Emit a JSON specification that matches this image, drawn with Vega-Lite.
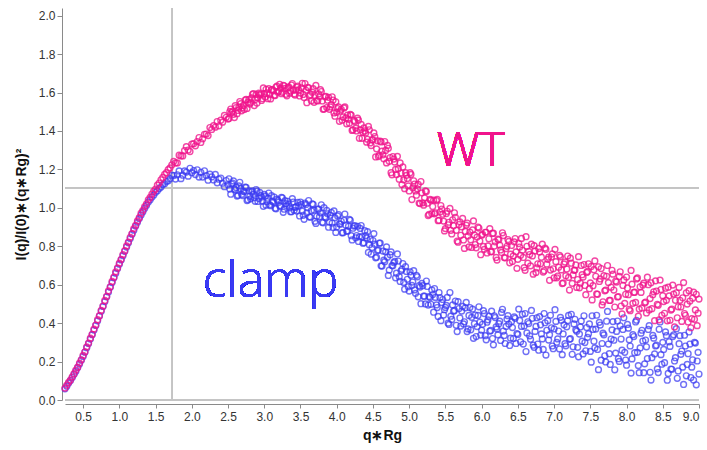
{
"$schema": "https://vega.github.io/schema/vega-lite/v6.json",
"width": 634, "height": 392,
"autosize": {"type": "none"},
"padding": {"left": 65, "top": 8, "right": 8, "bottom": 50},
"background": "white",
"config": {
 "view": {"stroke": null},
 "font": "Liberation Sans",
 "axis": {"grid": false, "domainColor": "#8a8a8a", "tickColor": "#8a8a8a", "labelColor": "#333333", "labelFontSize": 12, "titleFontSize": 14, "titleFontWeight": "bold", "titleColor": "#111111"},
 "axisY": {"offset": 3, "tickSize": 5, "labelPadding": 2, "titlePadding": 10, "values": [0,0.2,0.4,0.6,0.8,1.0,1.2,1.4,1.6,1.8,2.0], "format": ".1f"},
 "axisX": {"offset": 4, "tickSize": 4, "labelPadding": 3, "titlePadding": 6, "values": [0.5,1,1.5,2,2.5,3,3.5,4,4.5,5,5.5,6,6.5,7,7.5,8,8.5,9], "format": ".1f"}
},
"data": {"values": [
{"q":0.25,"w":0.062,"c":0.058},{"q":0.275,"w":0.078,"c":0.072},{"q":0.3,"w":0.092,"c":0.088},{"q":0.325,"w":0.104,"c":0.101},{"q":0.35,"w":0.121,"c":0.117},{"q":0.375,"w":0.137,"c":0.134},{"q":0.4,"w":0.156,"c":0.15},{"q":0.425,"w":0.171,"c":0.169},{"q":0.45,"w":0.192,"c":0.187},{"q":0.475,"w":0.209,"c":0.207},
{"q":0.5,"w":0.232,"c":0.227},{"q":0.525,"w":0.251,"c":0.249},{"q":0.55,"w":0.277,"c":0.272},{"q":0.575,"w":0.296,"c":0.294},{"q":0.6,"w":0.322,"c":0.317},{"q":0.625,"w":0.342,"c":0.34},{"q":0.65,"w":0.369,"c":0.364},{"q":0.675,"w":0.39,"c":0.388},{"q":0.7,"w":0.418,"c":0.412},{"q":0.725,"w":0.439,"c":0.437},
{"q":0.75,"w":0.467,"c":0.462},{"q":0.775,"w":0.489,"c":0.487},{"q":0.8,"w":0.518,"c":0.512},{"q":0.825,"w":0.539,"c":0.537},{"q":0.85,"w":0.568,"c":0.562},{"q":0.875,"w":0.589,"c":0.587},{"q":0.9,"w":0.617,"c":0.611},{"q":0.925,"w":0.639,"c":0.636},{"q":0.95,"w":0.667,"c":0.66},{"q":0.975,"w":0.687,"c":0.684},
{"q":1.0,"w":0.712,"c":0.707},{"q":1.025,"w":0.732,"c":0.729},{"q":1.05,"w":0.757,"c":0.751},{"q":1.075,"w":0.777,"c":0.774},{"q":1.1,"w":0.802,"c":0.796},{"q":1.125,"w":0.822,"c":0.818},{"q":1.15,"w":0.847,"c":0.84},{"q":1.175,"w":0.866,"c":0.863},{"q":1.2,"w":0.892,"c":0.884},{"q":1.225,"w":0.909,"c":0.905},
{"q":1.25,"w":0.932,"c":0.925},{"q":1.275,"w":0.949,"c":0.944},{"q":1.3,"w":0.972,"c":0.963},{"q":1.325,"w":0.987,"c":0.98},{"q":1.35,"w":1.007,"c":0.998},{"q":1.375,"w":1.021,"c":1.013},{"q":1.4,"w":1.042,"c":1.03},{"q":1.425,"w":1.054,"c":1.042},{"q":1.45,"w":1.072,"c":1.056},
{"q":1.475,"w":1.087,"c":1.067},{"q":1.5,"w":1.098,"c":1.081},{"q":1.525,"w":1.118,"c":1.089},{"q":1.55,"w":1.129,"c":1.101},{"q":1.575,"w":1.146,"c":1.108},{"q":1.6,"w":1.158,"c":1.121},{"q":1.625,"w":1.174,"c":1.126},{"q":1.65,"w":1.183,"c":1.137},{"q":1.675,"w":1.199,"c":1.141},{"q":1.7,"w":1.208,"c":1.152},
{"q":1.725,"w":1.224,"c":1.17},{"q":1.75,"w":1.242,"c":1.168},{"q":1.775,"w":1.234,"c":1.15},{"q":1.8,"w":1.234,"c":1.172},{"q":1.825,"w":1.274,"c":1.192},{"q":1.85,"w":1.27,"c":1.152},{"q":1.875,"w":1.27,"c":1.17},{"q":1.9,"w":1.298,"c":1.192},{"q":1.925,"w":1.318,"c":1.186},{"q":1.95,"w":1.301,"c":1.165},
{"q":1.975,"w":1.293,"c":1.206},{"q":2.0,"w":1.332,"c":1.183},{"q":2.025,"w":1.334,"c":1.194},{"q":2.05,"w":1.323,"c":1.173},{"q":2.075,"w":1.345,"c":1.198},{"q":2.1,"w":1.366,"c":1.16},{"q":2.125,"w":1.34,"c":1.185},{"q":2.15,"w":1.359,"c":1.16},{"q":2.175,"w":1.383,"c":1.193},{"q":2.2,"w":1.384,"c":1.168},
{"q":2.225,"w":1.376,"c":1.144},{"q":2.25,"w":1.418,"c":1.175},{"q":2.275,"w":1.408,"c":1.161},{"q":2.3,"w":1.428,"c":1.145},{"q":2.325,"w":1.42,"c":1.174},{"q":2.35,"w":1.449,"c":1.13},{"q":2.375,"w":1.427,"c":1.149},{"q":2.4,"w":1.456,"c":1.155},{"q":2.425,"w":1.446,"c":1.128},{"q":2.45,"w":1.481,"c":1.11},
{"q":2.475,"w":1.471,"c":1.142},{"q":2.5,"w":1.462,"c":1.12},{"q":2.525,"w":1.501,"c":1.098},{"q":2.55,"w":1.496,"c":1.124},{"q":2.575,"w":1.487,"c":1.14},{"q":2.6,"w":1.532,"c":1.093},{"q":2.625,"w":1.49,"c":1.061},{"q":2.65,"w":1.524,"c":1.114},{"q":2.675,"w":1.542,"c":1.1},{"q":2.7,"w":1.521,"c":1.064},
{"q":2.725,"w":1.512,"c":1.085},{"q":2.75,"w":1.564,"c":1.106},{"q":2.775,"w":1.549,"c":1.042},{"q":2.8,"w":1.54,"c":1.06},{"q":2.825,"w":1.572,"c":1.084},{"q":2.85,"w":1.595,"c":1.07},{"q":2.875,"w":1.564,"c":1.034},{"q":2.9,"w":1.545,"c":1.087},{"q":2.925,"w":1.597,"c":1.049},{"q":2.95,"w":1.592,"c":1.064},
{"q":2.975,"w":1.568,"c":1.034},{"q":3.0,"w":1.593,"c":1.07},{"q":3.025,"w":1.617,"c":1.014},{"q":3.05,"w":1.568,"c":1.05},{"q":3.075,"w":1.589,"c":1.016},{"q":3.1,"w":1.615,"c":1.063},{"q":3.125,"w":1.609,"c":1.029},{"q":3.15,"w":1.584,"c":0.998},{"q":3.175,"w":1.634,"c":1.045},{"q":3.2,"w":1.607,"c":1.029},
{"q":3.225,"w":1.623,"c":1.008},{"q":3.25,"w":1.601,"c":1.052},{"q":3.275,"w":1.635,"c":0.993},{"q":3.3,"w":1.591,"c":1.022},{"q":3.325,"w":1.624,"c":1.034},{"q":3.35,"w":1.597,"c":1.0},{"q":3.375,"w":1.639,"c":0.98},{"q":3.4,"w":1.612,"c":1.03},{"q":3.425,"w":1.587,"c":1.003},{"q":3.45,"w":1.628,"c":0.983},
{"q":3.475,"w":1.614,"c":1.011},{"q":3.5,"w":1.598,"c":1.03},{"q":3.525,"w":1.648,"c":0.983},{"q":3.55,"w":1.574,"c":0.94},{"q":3.575,"w":1.612,"c":1.018},{"q":3.6,"w":1.627,"c":1.0},{"q":3.625,"w":1.583,"c":0.953},{"q":3.65,"w":1.557,"c":0.985},{"q":3.675,"w":1.62,"c":1.018},{"q":3.7,"w":1.585,"c":0.93},
{"q":3.725,"w":1.558,"c":0.956},{"q":3.75,"w":1.593,"c":0.993},{"q":3.775,"w":1.615,"c":0.974},{"q":3.8,"w":1.556,"c":0.925},{"q":3.825,"w":1.514,"c":1.001},{"q":3.85,"w":1.58,"c":0.948},{"q":3.875,"w":1.56,"c":0.969},{"q":3.9,"w":1.513,"c":0.925},{"q":3.925,"w":1.537,"c":0.976},{"q":3.95,"w":1.561,"c":0.898},
{"q":3.975,"w":1.477,"c":0.949},{"q":4.0,"w":1.497,"c":0.9},{"q":4.025,"w":1.525,"c":0.965},{"q":4.05,"w":1.504,"c":0.915},{"q":4.075,"w":1.456,"c":0.87},{"q":4.1,"w":1.52,"c":0.935},{"q":4.125,"w":1.468,"c":0.91},{"q":4.15,"w":1.483,"c":0.88},{"q":4.175,"w":1.44,"c":0.94},{"q":4.2,"w":1.482,"c":0.855},
{"q":4.225,"w":1.406,"c":0.894},{"q":4.25,"w":1.449,"c":0.908},{"q":4.275,"w":1.4,"c":0.856},{"q":4.3,"w":1.456,"c":0.825},{"q":4.325,"w":1.406,"c":0.893},{"q":4.35,"w":1.362,"c":0.85},{"q":4.375,"w":1.416,"c":0.818},{"q":4.4,"w":1.39,"c":0.855},{"q":4.425,"w":1.357,"c":0.876},{"q":4.45,"w":1.406,"c":0.808},
{"q":4.475,"w":1.324,"c":0.759},{"q":4.5,"w":1.354,"c":0.83},{"q":4.525,"w":1.371,"c":0.811},{"q":4.55,"w":1.307,"c":0.743},{"q":4.575,"w":1.267,"c":0.78},{"q":4.6,"w":1.347,"c":0.817},{"q":4.625,"w":1.295,"c":0.697},{"q":4.65,"w":1.255,"c":0.728},{"q":4.675,"w":1.299,"c":0.771},{"q":4.7,"w":1.325,"c":0.743},
{"q":4.725,"w":1.242,"c":0.676},{"q":4.75,"w":1.183,"c":0.771},{"q":4.775,"w":1.267,"c":0.698},{"q":4.8,"w":1.238,"c":0.721},{"q":4.825,"w":1.173,"c":0.66},{"q":4.85,"w":1.204,"c":0.723},{"q":4.875,"w":1.234,"c":0.617},{"q":4.9,"w":1.121,"c":0.68},{"q":4.925,"w":1.146,"c":0.612},{"q":4.95,"w":1.183,"c":0.694},
{"q":4.975,"w":1.153,"c":0.628},{"q":5.0,"w":1.088,"c":0.567},{"q":5.025,"w":1.174,"c":0.649},{"q":5.05,"w":1.104,"c":0.614},{"q":5.075,"w":1.124,"c":0.573},{"q":5.1,"w":1.066,"c":0.649},{"q":5.125,"w":1.122,"c":0.537},{"q":5.15,"w":1.022,"c":0.588},{"q":5.175,"w":1.078,"c":0.607},{"q":5.2,"w":1.014,"c":0.54},
{"q":5.225,"w":1.088,"c":0.5},{"q":5.25,"w":1.024,"c":0.591},{"q":5.275,"w":0.966,"c":0.538},{"q":5.3,"w":1.04,"c":0.498},{"q":5.325,"w":1.007,"c":0.549},{"q":5.35,"w":0.969,"c":0.58},{"q":5.375,"w":1.038,"c":0.495},{"q":5.4,"w":0.933,"c":0.435},{"q":5.425,"w":0.978,"c":0.533},{"q":5.45,"w":0.994,"c":0.507},
{"q":5.475,"w":0.931,"c":0.442},{"q":5.5,"w":0.892,"c":0.482},{"q":5.525,"w":0.982,"c":0.534},{"q":5.55,"w":0.925,"c":0.393},{"q":5.575,"w":0.883,"c":0.436},{"q":5.6,"w":0.938,"c":0.495},{"q":5.625,"w":0.974,"c":0.466},{"q":5.65,"w":0.883,"c":0.389},{"q":5.675,"w":0.821,"c":0.512},{"q":5.7,"w":0.927,"c":0.427},
{"q":5.725,"w":0.901,"c":0.463},{"q":5.75,"w":0.833,"c":0.396},{"q":5.775,"w":0.877,"c":0.48},{"q":5.8,"w":0.921,"c":0.356},{"q":5.825,"w":0.797,"c":0.44},{"q":5.85,"w":0.834,"c":0.365},{"q":5.875,"w":0.885,"c":0.473},{"q":5.9,"w":0.859,"c":0.397},{"q":5.925,"w":0.792,"c":0.33},{"q":5.95,"w":0.9,"c":0.44},
{"q":5.975,"w":0.827,"c":0.405},{"q":6.0,"w":0.858,"c":0.363},{"q":6.025,"w":0.799,"c":0.465},{"q":6.05,"w":0.873,"c":0.335},{"q":6.075,"w":0.765,"c":0.405},{"q":6.1,"w":0.839,"c":0.436},{"q":6.125,"w":0.772,"c":0.362},{"q":6.15,"w":0.867,"c":0.32},{"q":6.175,"w":0.801,"c":0.438},{"q":6.2,"w":0.742,"c":0.38},
{"q":6.225,"w":0.837,"c":0.339},{"q":6.25,"w":0.806,"c":0.41},{"q":6.275,"w":0.768,"c":0.456},{"q":6.3,"w":0.856,"c":0.359},{"q":6.325,"w":0.74,"c":0.294},{"q":6.35,"w":0.8,"c":0.421},{"q":6.375,"w":0.825,"c":0.395},{"q":6.4,"w":0.759,"c":0.322},{"q":6.425,"w":0.721,"c":0.377},{"q":6.45,"w":0.823,"c":0.432},
{"q":6.475,"w":0.771,"c":0.294},{"q":6.5,"w":0.732,"c":0.341},{"q":6.525,"w":0.796,"c":0.414},{"q":6.55,"w":0.841,"c":0.383},{"q":6.575,"w":0.742,"c":0.291},{"q":6.6,"w":0.675,"c":0.45},{"q":6.625,"w":0.8,"c":0.349},{"q":6.65,"w":0.773,"c":0.398},{"q":6.675,"w":0.698,"c":0.316},{"q":6.7,"w":0.75,"c":0.425},
{"q":6.725,"w":0.803,"c":0.274},{"q":6.75,"w":0.664,"c":0.383},{"q":6.775,"w":0.709,"c":0.291},{"q":6.8,"w":0.77,"c":0.434},{"q":6.825,"w":0.743,"c":0.344},{"q":6.85,"w":0.666,"c":0.263},{"q":6.875,"w":0.791,"c":0.402},{"q":6.9,"w":0.707,"c":0.363},{"q":6.925,"w":0.743,"c":0.312},{"q":6.95,"w":0.676,"c":0.441},
{"q":6.975,"w":0.76,"c":0.281},{"q":7.0,"w":0.636,"c":0.37},{"q":7.025,"w":0.72,"c":0.409},{"q":7.05,"w":0.645,"c":0.318},{"q":7.075,"w":0.753,"c":0.266},{"q":7.1,"w":0.677,"c":0.415},{"q":7.125,"w":0.609,"c":0.344},{"q":7.15,"w":0.718,"c":0.293},{"q":7.175,"w":0.682,"c":0.381},{"q":7.2,"w":0.638,"c":0.44},
{"q":7.225,"w":0.738,"c":0.319},{"q":7.25,"w":0.607,"c":0.238},{"q":7.275,"w":0.675,"c":0.396},{"q":7.3,"w":0.703,"c":0.365},{"q":7.325,"w":0.627,"c":0.274},{"q":7.35,"w":0.584,"c":0.343},{"q":7.375,"w":0.7,"c":0.411},{"q":7.4,"w":0.64,"c":0.24},{"q":7.425,"w":0.596,"c":0.299},{"q":7.45,"w":0.664,"c":0.377},
{"q":7.475,"w":0.709,"c":0.345},{"q":7.5,"w":0.609,"c":0.253},{"q":7.525,"w":0.521,"c":0.438},{"q":7.55,"w":0.678,"c":0.306},{"q":7.575,"w":0.644,"c":0.369},{"q":7.6,"w":0.55,"c":0.263},{"q":7.625,"w":0.617,"c":0.404},{"q":7.65,"w":0.684,"c":0.207},{"q":7.675,"w":0.511,"c":0.348},{"q":7.7,"w":0.568,"c":0.23},
{"q":7.725,"w":0.644,"c":0.41},{"q":7.75,"w":0.611,"c":0.291},{"q":7.775,"w":0.518,"c":0.185},{"q":7.8,"w":0.675,"c":0.365},{"q":7.825,"w":0.572,"c":0.311},{"q":7.85,"w":0.619,"c":0.244},{"q":7.875,"w":0.536,"c":0.411},{"q":7.9,"w":0.643,"c":0.201},{"q":7.925,"w":0.489,"c":0.317},{"q":7.95,"w":0.596,"c":0.367},
{"q":7.975,"w":0.503,"c":0.248},{"q":8.0,"w":0.64,"c":0.181},{"q":8.025,"w":0.548,"c":0.374},{"q":8.05,"w":0.465,"c":0.281},{"q":8.075,"w":0.603,"c":0.214},{"q":8.1,"w":0.56,"c":0.33},{"q":8.125,"w":0.508,"c":0.406},{"q":8.15,"w":0.635,"c":0.248},{"q":8.175,"w":0.473,"c":0.142},{"q":8.2,"w":0.56,"c":0.348},
{"q":8.225,"w":0.598,"c":0.307},{"q":8.25,"w":0.505,"c":0.188},{"q":8.275,"w":0.453,"c":0.277},{"q":8.3,"w":0.6,"c":0.367},{"q":8.325,"w":0.528,"c":0.144},{"q":8.35,"w":0.475,"c":0.22},{"q":8.375,"w":0.563,"c":0.322},{"q":8.4,"w":0.62,"c":0.281},{"q":8.425,"w":0.498,"c":0.162},{"q":8.45,"w":0.417,"c":0.368},
{"q":8.475,"w":0.575,"c":0.236},{"q":8.5,"w":0.543,"c":0.3},{"q":8.525,"w":0.451,"c":0.194},{"q":8.55,"w":0.519,"c":0.335},{"q":8.575,"w":0.587,"c":0.138},{"q":8.6,"w":0.415,"c":0.279},{"q":8.625,"w":0.473,"c":0.16},{"q":8.65,"w":0.551,"c":0.339},{"q":8.675,"w":0.519,"c":0.22},{"q":8.7,"w":0.428,"c":0.113},
{"q":8.725,"w":0.586,"c":0.293},{"q":8.75,"w":0.484,"c":0.238},{"q":8.775,"w":0.532,"c":0.171},{"q":8.8,"w":0.45,"c":0.337},{"q":8.825,"w":0.558,"c":0.126},{"q":8.85,"w":0.406,"c":0.241},{"q":8.875,"w":0.515,"c":0.291},{"q":8.9,"w":0.423,"c":0.171},{"q":8.925,"w":0.561,"c":0.104},{"q":8.95,"w":0.469,"c":0.296},
{"q":8.975,"w":0.387,"c":0.203},{"q":9.0,"w":0.525,"c":0.135},
{"q":2.5125,"w":1.465,"c":1.151},{"q":2.5375,"w":1.514,"c":1.071},{"q":2.5625,"w":1.503,"c":1.129},{"q":2.5875,"w":1.47,"c":1.098},{"q":2.6125,"w":1.522,"c":1.106},{"q":2.6375,"w":1.507,"c":1.065},{"q":2.6625,"w":1.553,"c":1.133},{"q":2.6875,"w":1.505,"c":1.07},{"q":2.7125,"w":1.533,"c":1.087},{"q":2.7375,"w":1.561,"c":1.108},
{"q":2.7625,"w":1.517,"c":1.038},{"q":2.7875,"w":1.563,"c":1.089},{"q":2.8125,"w":1.547,"c":1.047},{"q":2.8375,"w":1.591,"c":1.089},{"q":2.8625,"w":1.532,"c":1.053},{"q":2.8875,"w":1.59,"c":1.095},{"q":2.9125,"w":1.573,"c":1.033},{"q":2.9375,"w":1.588,"c":1.08},{"q":2.9625,"w":1.559,"c":1.057},{"q":2.9875,"w":1.624,"c":1.008},
{"q":3.0125,"w":1.577,"c":1.061},{"q":3.0375,"w":1.598,"c":1.033},{"q":3.0625,"w":1.621,"c":1.077},{"q":3.0875,"w":1.567,"c":1.011},{"q":3.1125,"w":1.615,"c":1.034},{"q":3.1375,"w":1.586,"c":1.056},{"q":3.1625,"w":1.628,"c":0.995},{"q":3.1875,"w":1.602,"c":1.039},{"q":3.2125,"w":1.643,"c":1.011},{"q":3.2375,"w":1.594,"c":1.055},
{"q":3.2625,"w":1.638,"c":0.977},{"q":3.2875,"w":1.622,"c":1.037},{"q":3.3125,"w":1.583,"c":1.01},{"q":3.3375,"w":1.629,"c":1.019},{"q":3.3625,"w":1.608,"c":0.98},{"q":3.3875,"w":1.647,"c":1.048},{"q":3.4125,"w":1.593,"c":0.987},{"q":3.4375,"w":1.613,"c":1.005},{"q":3.4625,"w":1.634,"c":1.028},{"q":3.4875,"w":1.582,"c":0.958},
{"q":3.5125,"w":1.625,"c":1.018},{"q":3.5375,"w":1.59,"c":0.961},{"q":3.5625,"w":1.647,"c":1.025},{"q":3.5875,"w":1.547,"c":0.974},{"q":3.6125,"w":1.625,"c":1.038},{"q":3.6375,"w":1.589,"c":0.951},{"q":3.6625,"w":1.602,"c":1.021},{"q":3.6875,"w":1.549,"c":0.988},{"q":3.7125,"w":1.637,"c":0.919},{"q":3.7375,"w":1.556,"c":0.993},
{"q":3.7625,"w":1.578,"c":0.954},{"q":3.7875,"w":1.605,"c":1.016},{"q":3.8125,"w":1.513,"c":0.922},{"q":3.8375,"w":1.578,"c":0.954},{"q":3.8625,"w":1.522,"c":0.987},{"q":3.8875,"w":1.575,"c":0.899},{"q":3.9125,"w":1.525,"c":0.961},{"q":3.9375,"w":1.578,"c":0.921},{"q":3.9625,"w":1.494,"c":0.984},{"q":3.9875,"w":1.552,"c":0.872},
{"q":4.0125,"w":1.517,"c":0.958},{"q":4.0375,"w":1.45,"c":0.917},{"q":4.0625,"w":1.513,"c":0.93},{"q":4.0875,"w":1.473,"c":0.871},{"q":4.1125,"w":1.525,"c":0.968},{"q":4.1375,"w":1.437,"c":0.878},{"q":4.1625,"w":1.461,"c":0.904},{"q":4.1875,"w":1.486,"c":0.935},{"q":4.2125,"w":1.403,"c":0.833},{"q":4.2375,"w":1.455,"c":0.905},
{"q":4.2625,"w":1.415,"c":0.844},{"q":4.2875,"w":1.467,"c":0.904},{"q":4.3125,"w":1.362,"c":0.849},{"q":4.3375,"w":1.434,"c":0.908},{"q":4.3625,"w":1.393,"c":0.816},{"q":4.3875,"w":1.4,"c":0.881},{"q":4.4125,"w":1.342,"c":0.843},{"q":4.4375,"w":1.424,"c":0.768},{"q":4.4625,"w":1.338,"c":0.837},{"q":4.4875,"w":1.355,"c":0.793},
{"q":4.5125,"w":1.39,"c":0.866},{"q":4.5375,"w":1.265,"c":0.74},{"q":4.5625,"w":1.349,"c":0.778},{"q":4.5875,"w":1.274,"c":0.816},{"q":4.6125,"w":1.343,"c":0.698},{"q":4.6375,"w":1.276,"c":0.775},{"q":4.6625,"w":1.345,"c":0.72},{"q":4.6875,"w":1.234,"c":0.797},{"q":4.7125,"w":1.31,"c":0.648},{"q":4.7375,"w":1.262,"c":0.756},
{"q":4.7625,"w":1.172,"c":0.7},{"q":4.7875,"w":1.254,"c":0.715},{"q":4.8125,"w":1.2,"c":0.636},{"q":4.8375,"w":1.268,"c":0.76},{"q":4.8625,"w":1.149,"c":0.642},{"q":4.8875,"w":1.181,"c":0.672},{"q":4.9125,"w":1.213,"c":0.71},{"q":4.9375,"w":1.1,"c":0.577},{"q":4.9625,"w":1.169,"c":0.669},{"q":4.9875,"w":1.114,"c":0.59},
{"q":5.0125,"w":1.183,"c":0.667},{"q":5.0375,"w":1.043,"c":0.596},{"q":5.0625,"w":1.141,"c":0.673},{"q":5.0875,"w":1.088,"c":0.555},{"q":5.1125,"w":1.099,"c":0.641},{"q":5.1375,"w":1.025,"c":0.595},{"q":5.1625,"w":1.137,"c":0.501},{"q":5.1875,"w":1.026,"c":0.595},{"q":5.2125,"w":1.052,"c":0.54},{"q":5.2375,"w":1.085,"c":0.619},
{"q":5.2625,"w":0.96,"c":0.494},{"q":5.2875,"w":1.044,"c":0.534},{"q":5.3125,"w":0.97,"c":0.573},{"q":5.3375,"w":1.04,"c":0.457},{"q":5.3625,"w":0.974,"c":0.534},{"q":5.3875,"w":1.044,"c":0.481},{"q":5.4125,"w":0.935,"c":0.559},{"q":5.4375,"w":1.012,"c":0.413},{"q":5.4625,"w":0.967,"c":0.523},{"q":5.4875,"w":0.88,"c":0.47},
{"q":5.5125,"w":0.97,"c":0.492},{"q":5.5375,"w":0.912,"c":0.4},{"q":5.5625,"w":0.997,"c":0.559},{"q":5.5875,"w":0.864,"c":0.419},{"q":5.6125,"w":0.907,"c":0.462},{"q":5.6375,"w":0.951,"c":0.515},{"q":5.6625,"w":0.827,"c":0.356},{"q":5.6875,"w":0.913,"c":0.476},{"q":5.7125,"w":0.857,"c":0.385},{"q":5.7375,"w":0.945,"c":0.487},
{"q":5.7625,"w":0.789,"c":0.407},{"q":5.7875,"w":0.91,"c":0.508},{"q":5.8125,"w":0.854,"c":0.37},{"q":5.8375,"w":0.874,"c":0.481},{"q":5.8625,"w":0.794,"c":0.43},{"q":5.8875,"w":0.932,"c":0.321},{"q":5.9125,"w":0.809,"c":0.442},{"q":5.9375,"w":0.848,"c":0.382},{"q":5.9625,"w":0.895,"c":0.485},{"q":5.9875,"w":0.756,"c":0.338},
{"q":6.0125,"w":0.862,"c":0.394},{"q":6.0375,"w":0.784,"c":0.45},{"q":6.0625,"w":0.873,"c":0.313},{"q":6.0875,"w":0.802,"c":0.417},{"q":6.1125,"w":0.892,"c":0.358},{"q":6.1375,"w":0.771,"c":0.462},{"q":6.1625,"w":0.868,"c":0.287},{"q":6.1875,"w":0.823,"c":0.429},{"q":6.2125,"w":0.728,"c":0.37},{"q":6.2375,"w":0.834,"c":0.397},
{"q":6.2625,"w":0.781,"c":0.31},{"q":6.2875,"w":0.87,"c":0.472},{"q":6.3125,"w":0.741,"c":0.336},{"q":6.3375,"w":0.788,"c":0.383},{"q":6.3625,"w":0.835,"c":0.439},{"q":6.3875,"w":0.714,"c":0.284},{"q":6.4125,"w":0.804,"c":0.408},{"q":6.4375,"w":0.75,"c":0.32},{"q":6.4625,"w":0.84,"c":0.425},{"q":6.4875,"w":0.685,"c":0.346},
{"q":6.5125,"w":0.814,"c":0.473},{"q":6.5375,"w":0.753,"c":0.303},{"q":6.5625,"w":0.779,"c":0.446},{"q":6.5875,"w":0.689,"c":0.385},{"q":6.6125,"w":0.85,"c":0.252},{"q":6.6375,"w":0.712,"c":0.407},{"q":6.6625,"w":0.757,"c":0.334},{"q":6.6875,"w":0.811,"c":0.466},{"q":6.7125,"w":0.655,"c":0.285},{"q":6.7375,"w":0.776,"c":0.357},
{"q":6.7625,"w":0.687,"c":0.428},{"q":6.7875,"w":0.789,"c":0.259},{"q":6.8125,"w":0.709,"c":0.391},{"q":6.8375,"w":0.811,"c":0.318},{"q":6.8625,"w":0.673,"c":0.45},{"q":6.8875,"w":0.784,"c":0.234},{"q":6.9125,"w":0.732,"c":0.413},{"q":6.9375,"w":0.623,"c":0.34},{"q":6.9625,"w":0.744,"c":0.376},{"q":6.9875,"w":0.683,"c":0.267},
{"q":7.0125,"w":0.784,"c":0.47},{"q":7.0375,"w":0.636,"c":0.3},{"q":7.0625,"w":0.691,"c":0.359},{"q":7.0875,"w":0.745,"c":0.43},{"q":7.1125,"w":0.606,"c":0.236},{"q":7.1375,"w":0.708,"c":0.391},{"q":7.1625,"w":0.647,"c":0.282},{"q":7.1875,"w":0.749,"c":0.413},{"q":7.2125,"w":0.572,"c":0.316},{"q":7.2375,"w":0.712,"c":0.446},
{"q":7.2625,"w":0.651,"c":0.277},{"q":7.2875,"w":0.676,"c":0.42},{"q":7.3125,"w":0.586,"c":0.358},{"q":7.3375,"w":0.746,"c":0.225},{"q":7.3625,"w":0.608,"c":0.38},{"q":7.3875,"w":0.652,"c":0.306},{"q":7.4125,"w":0.705,"c":0.438},{"q":7.4375,"w":0.548,"c":0.256},{"q":7.4625,"w":0.669,"c":0.326},{"q":7.4875,"w":0.579,"c":0.396},
{"q":7.5125,"w":0.695,"c":0.197},{"q":7.5375,"w":0.595,"c":0.367},{"q":7.5625,"w":0.724,"c":0.271},{"q":7.5875,"w":0.552,"c":0.441},{"q":7.6125,"w":0.693,"c":0.158},{"q":7.6375,"w":0.63,"c":0.39},{"q":7.6625,"w":0.495,"c":0.294},{"q":7.6875,"w":0.647,"c":0.339},{"q":7.7125,"w":0.572,"c":0.198},{"q":7.7375,"w":0.7,"c":0.461},
{"q":7.7625,"w":0.518,"c":0.241},{"q":7.7875,"w":0.587,"c":0.317},{"q":7.8125,"w":0.655,"c":0.408},{"q":7.8375,"w":0.484,"c":0.157},{"q":7.8625,"w":0.614,"c":0.357},{"q":7.8875,"w":0.538,"c":0.215},{"q":7.9125,"w":0.667,"c":0.386},{"q":7.9375,"w":0.448,"c":0.259},{"q":7.9625,"w":0.625,"c":0.428},{"q":7.9875,"w":0.55,"c":0.208},
{"q":8.0125,"w":0.583,"c":0.393},{"q":8.0375,"w":0.472,"c":0.313},{"q":8.0625,"w":0.674,"c":0.14},{"q":8.0875,"w":0.503,"c":0.34},{"q":8.1125,"w":0.561,"c":0.246},{"q":8.1375,"w":0.63,"c":0.415},{"q":8.1625,"w":0.436,"c":0.179},{"q":8.1875,"w":0.589,"c":0.271},{"q":8.2125,"w":0.479,"c":0.363},{"q":8.2375,"w":0.608,"c":0.142},
{"q":8.2625,"w":0.51,"c":0.312},{"q":8.2875,"w":0.639,"c":0.216},{"q":8.3125,"w":0.469,"c":0.387},{"q":8.3375,"w":0.61,"c":0.104},{"q":8.3625,"w":0.548,"c":0.336},{"q":8.3875,"w":0.413,"c":0.24},{"q":8.4125,"w":0.567,"c":0.285},{"q":8.4375,"w":0.493,"c":0.143},{"q":8.4625,"w":0.624,"c":0.406},{"q":8.4875,"w":0.441,"c":0.186},
{"q":8.5125,"w":0.512,"c":0.263},{"q":8.5375,"w":0.582,"c":0.354},{"q":8.5625,"w":0.412,"c":0.103},{"q":8.5875,"w":0.542,"c":0.303},{"q":8.6125,"w":0.468,"c":0.161},{"q":8.6375,"w":0.598,"c":0.33},{"q":8.6625,"w":0.38,"c":0.203},{"q":8.6875,"w":0.558,"c":0.371},{"q":8.7125,"w":0.485,"c":0.151},{"q":8.7375,"w":0.519,"c":0.335},
{"q":8.7625,"w":0.409,"c":0.255},{"q":8.7875,"w":0.611,"c":0.081},{"q":8.8125,"w":0.441,"c":0.281},{"q":8.8375,"w":0.499,"c":0.185},{"q":8.8625,"w":0.569,"c":0.354},{"q":8.8875,"w":0.376,"c":0.117},{"q":8.9125,"w":0.53,"c":0.209},{"q":8.9375,"w":0.42,"c":0.3},{"q":8.9625,"w":0.55,"c":0.079},{"q":8.9875,"w":0.452,"c":0.248}
]},
"layer": [
 {"mark": {"type": "rule", "color": "#c4c4c4", "strokeWidth": 1},
  "encoding": {"y": {"datum": 0, "type": "quantitative", "title": "I(q)/I(0)∗(q∗Rg)²", "scale": {"domain": [0, 2.04], "nice": false, "zero": false}}}},
 {"mark": {"type": "rule", "color": "#c4c4c4", "strokeWidth": 1},
  "encoding": {"x": {"datum": 1.732, "type": "quantitative", "title": "q∗Rg", "scale": {"domain": [0.25, 9.0], "nice": false, "zero": false}}}},
 {"mark": {"type": "rule", "color": "#c4c4c4", "strokeWidth": 1},
  "encoding": {"y": {"datum": 1.104, "type": "quantitative", "title": "I(q)/I(0)∗(q∗Rg)²"}}},
 {"mark": {"type": "point", "shape": "circle", "filled": false, "size": 34, "strokeWidth": 1.4, "color": "#3a3af2", "opacity": 0.72},
  "encoding": {"x": {"field": "q", "type": "quantitative", "title": "q∗Rg"}, "y": {"field": "c", "type": "quantitative", "title": "I(q)/I(0)∗(q∗Rg)²"}}},
 {"mark": {"type": "point", "shape": "circle", "filled": false, "size": 34, "strokeWidth": 1.4, "color": "#f0148c", "opacity": 0.78},
  "encoding": {"x": {"field": "q", "type": "quantitative", "title": "q∗Rg"}, "y": {"field": "w", "type": "quantitative", "title": "I(q)/I(0)∗(q∗Rg)²"}}},
 {"mark": {"type": "text", "text": "WT", "font": "Open Sans", "fontWeight": 300, "fontSize": 48, "align": "left", "baseline": "alphabetic", "color": "#f0148c"},
  "encoding": {"x": {"datum": 5.38, "type": "quantitative", "title": "q∗Rg"}, "y": {"datum": 1.22, "type": "quantitative", "title": "I(q)/I(0)∗(q∗Rg)²"}}},
 {"mark": {"type": "text", "text": "clamp", "font": "Open Sans", "fontWeight": 300, "fontSize": 50, "align": "left", "baseline": "alphabetic", "color": "#3a3af2"},
  "encoding": {"x": {"datum": 2.15, "type": "quantitative", "title": "q∗Rg"}, "y": {"datum": 0.535, "type": "quantitative", "title": "I(q)/I(0)∗(q∗Rg)²"}}}
]
}
